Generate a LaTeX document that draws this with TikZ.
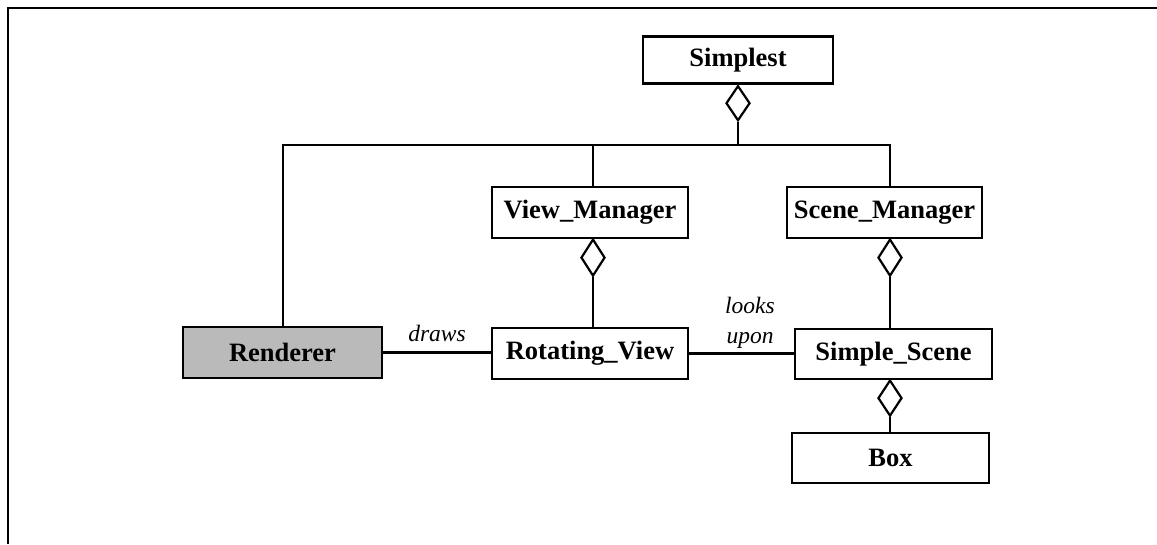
\documentclass[tikz,border=0pt]{standalone}
\usepackage{fontspec}
\setmainfont{Liberation Serif}
\usetikzlibrary{shapes.geometric}
\begin{document}
\begin{tikzpicture}[x=1pt,y=-1pt,line width=2.2pt,
  cls/.style={draw,rectangle,inner sep=0pt,font=\bfseries\fontsize{26.5}{30}\selectfont},
  agg/.style={draw,diamond,fill=white,inner sep=0pt,minimum width=24pt,minimum height=35pt,anchor=north},
  lab/.style={font=\itshape\fontsize{23.5}{30}\selectfont,align=center,inner sep=0pt}]
\useasboundingbox (0,0) rectangle (1157,544);
\draw (8,544) -- (8,8) -- (1157,8);
% classes
\node[cls,minimum width=190pt,minimum height=47pt] (simp) at (738,60) {Simplest};
\node[cls,minimum width=196pt,minimum height=51pt] (vm) at (590,212.5) {View\_Manager};
\node[cls,minimum width=195pt,minimum height=51pt] (sm) at (884.5,212.5) {Scene\_Manager};
\node[cls,minimum width=199pt,minimum height=51pt,fill=black!27] (rend) at (282.5,352.5) {Renderer};
\node[cls,minimum width=196pt,minimum height=51pt] (rv) at (590,353.5) {Rotating\_View};
\node[cls,minimum width=197pt,minimum height=50pt] (ss) at (893.5,354) {Simple\_Scene};
\node[cls,minimum width=197pt,minimum height=50pt] (box) at (890.5,458) {Box};
% aggregation diamonds
\node[agg] (d1) at (simp.south) {};
\node[agg,minimum height=37pt] (d2) at (593,238) {};
\node[agg,minimum height=37pt] (d3) at (890,238) {};
\node[agg,minimum height=36pt] (d4) at (890,379) {};
% bus
\coordinate (bl) at (283,145);
\coordinate (bv) at (593,145);
\coordinate (bs) at (738,145);
\coordinate (br) at (890,145);
\draw (d1.south) -- (bs);
\draw (rend.north -| bl) -- (bl) -- (br) -- (br |- sm.north);
\draw (bv) -- (bv |- vm.north);
\draw (d2.south) -- (d2.south |- rv.north);
\draw (d3.south) -- (d3.south |- ss.north);
\draw (d4.south) -- (d4.south |- box.north);
% associations
\draw (rend.east) -- (rend.east -| rv.west);
\draw (rv.east) -- (rv.east -| ss.west);
\node[lab] (ldraws) at (437,333) {draws};
\node[lab] (llooks) at (750,323) {looks\\upon};
\end{tikzpicture}
\end{document}
